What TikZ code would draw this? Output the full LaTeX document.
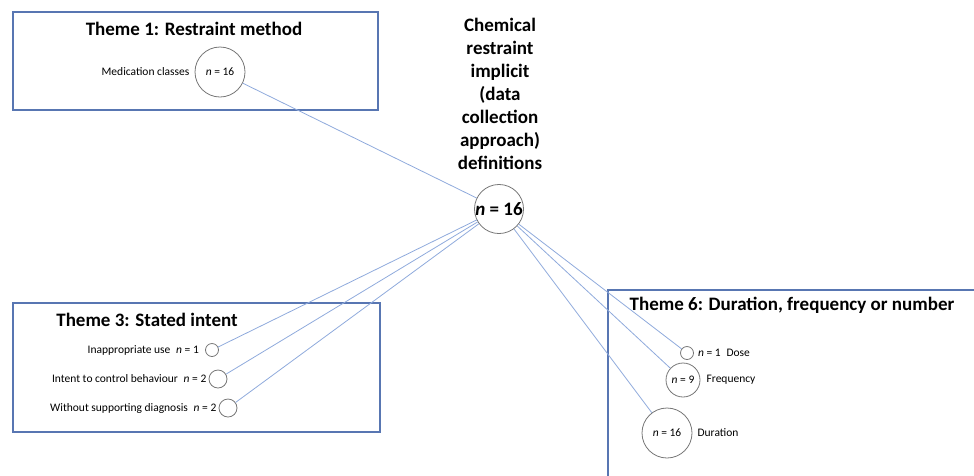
\documentclass[tikz,border=0pt]{standalone}
\usepackage{fontspec}
\setmainfont{Carlito}
\usepackage{xcolor}
\usetikzlibrary{positioning}
\definecolor{boxblue}{RGB}{88,118,178}
\definecolor{linkblue}{RGB}{143,170,220}
\definecolor{ringgray}{RGB}{118,118,118}

\begin{document}
\begin{tikzpicture}[
    x=1pt, y=-1pt,
    themebox/.style={draw=boxblue, line width=1.1pt},
    heading/.style={font=\fontsize{19}{23}\selectfont\bfseries, inner sep=0pt},
    count/.style={circle, draw=ringgray, line width=0.8pt, inner sep=0pt, font=\fontsize{11.5}{14}\selectfont},
    item/.style={font=\fontsize{11.5}{14}\selectfont, inner sep=0pt},
    link/.style={draw=linkblue, line width=0.8pt},
]
\useasboundingbox (0,0) rectangle (974,475);

% theme boxes
\draw[themebox] (13,12) rectangle (378,110);
\draw[themebox] (13,303) rectangle (380,432);
\draw[themebox] (608,480) -- (608,290) -- (980,290);

\node[heading] (t1) at (194,29) {Theme 1: Restraint method};
\node[heading] (t3) at (147,320) {Theme 3: Stated intent};
\node[heading] (t6) at (792,305) {Theme 6: Duration, frequency or number};

% centre
\node[heading, text width=110pt, align=center] (defs) at (500,94)
    {Chemical\\restraint\\implicit\\(data\\collection\\approach)\\definitions};
\node[count, minimum size=48pt, font=\fontsize{19}{23}\selectfont\bfseries] (centre) at (499,209) {\textit{n} = 16};

% theme 1
\node[count, minimum size=50pt] (medic) at (220,72) {\textit{n} = 16};
\node[item, left=5pt of medic] (medlab) {Medication classes};

% theme 3
\node[count, minimum size=13pt] (inapp) at (212,350) {};
\node[count, minimum size=18pt] (control) at (218,379) {};
\node[count, minimum size=18pt] (nodiag) at (228,408) {};
\node[item, left=6pt of inapp] (inlab) {Inappropriate use\enspace\textit{n} = 1};
\node[item, left=2pt of control] (ctlab) {Intent to control behaviour\enspace\textit{n} = 2};
\node[item, left=2pt of nodiag] (ndlab) {Without supporting diagnosis\enspace\textit{n} = 2};

% theme 6
\node[count, minimum size=13pt] (dose) at (687,353) {};
\node[count, minimum size=34pt] (freq) at (683,380) {\textit{n} = 9};
\node[count, minimum size=50pt] (durat) at (667,433) {\textit{n} = 16};
\node[item, right=4pt of dose] (dolab) {\textit{n} = 1\enspace Dose};
\node[item, right=6pt of freq] (frlab) {Frequency};
\node[item, right=5pt of durat] (dulab) {Duration};

% links
\draw[link] (centre) -- (medic);
\draw[link] (centre) -- (inapp);
\draw[link] (centre) -- (control);
\draw[link] (centre) -- (nodiag);
\draw[link] (centre) -- (dose);
\draw[link] (centre) -- (freq);
\draw[link] (centre) -- (durat);
\end{tikzpicture}
\end{document}
